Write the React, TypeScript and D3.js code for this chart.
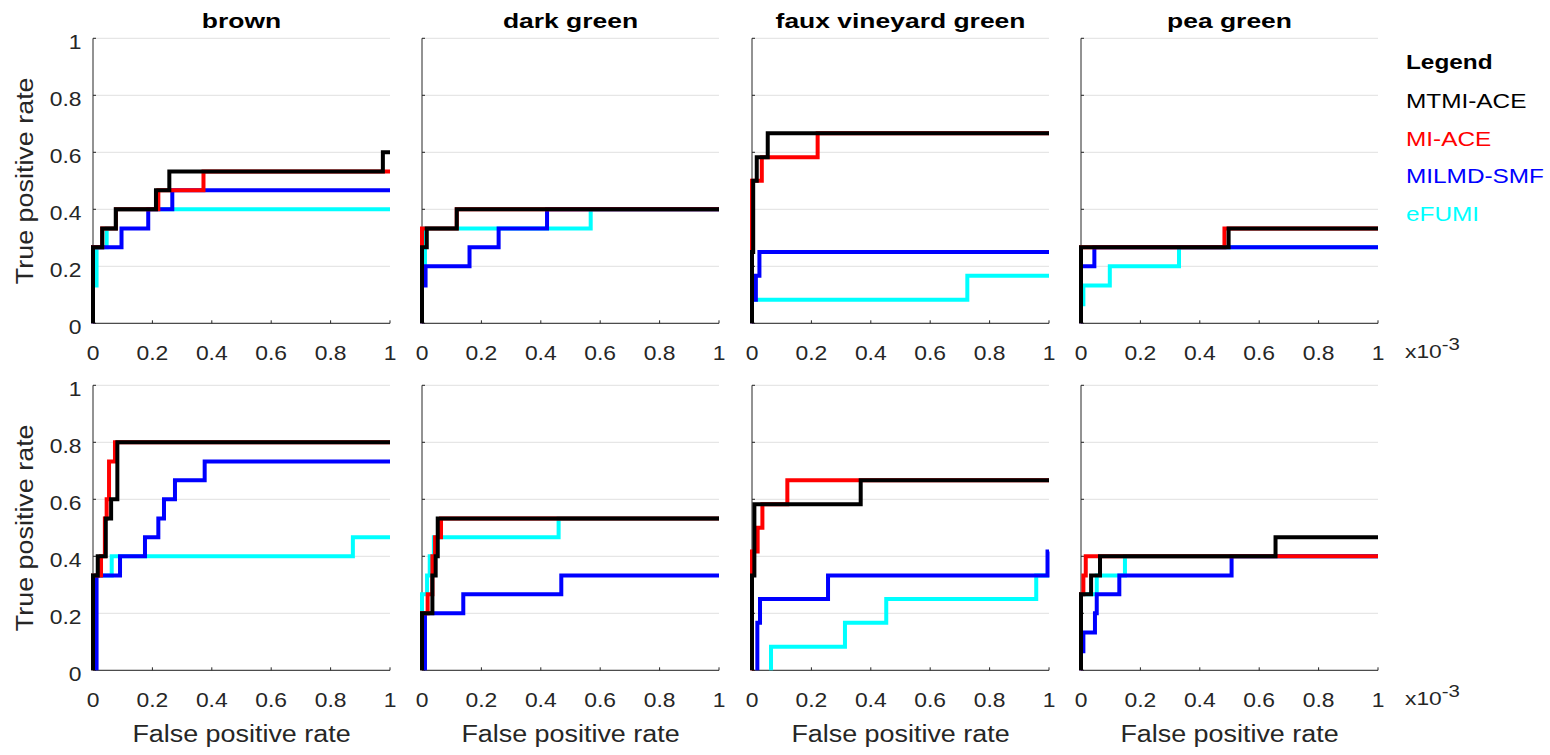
import React from "react";
import * as d3 from "d3";

type Pt = [number, number];

const methods = ["MTMI-ACE", "MI-ACE", "MILMD-SMF", "eFUMI"];
const methodColors = ["#000000", "#ff0000", "#0000ff", "#00ffff"];
const panelTitles = ["brown", "dark green", "faux vineyard green", "pea green"];
const yTicks = [0, 0.2, 0.4, 0.6, 0.8, 1];
const xTicks = [0, 0.2, 0.4, 0.6, 0.8, 1];
const xTickLabels = ["0", "0.2", "0.4", "0.6", "0.8", "1"];
const yTickLabels = ["0", "0.2", "0.4", "0.6", "0.8", "1"];

// Top row (x in units of 1e-3 false positive rate)
const brownTop_MTMI: Pt[] = [[0,0],[0,0.267],[0.031,0.267],[0.031,0.333],[0.077,0.333],[0.077,0.4],[0.212,0.4],[0.212,0.467],[0.257,0.467],[0.257,0.533],[0.976,0.533],[0.976,0.6],[1,0.6]];
const brownTop_MI: Pt[] = [[0,0],[0,0.267],[0.031,0.267],[0.031,0.333],[0.077,0.333],[0.077,0.4],[0.22,0.4],[0.22,0.467],[0.372,0.467],[0.372,0.533],[1,0.533]];
const brownTop_MILMD: Pt[] = [[0,0],[0,0.267],[0.096,0.267],[0.096,0.333],[0.186,0.333],[0.186,0.4],[0.267,0.4],[0.267,0.467],[1,0.467]];
const brownTop_eFUMI: Pt[] = [[0,0],[0,0.133],[0.012,0.133],[0.012,0.267],[0.046,0.267],[0.046,0.333],[0.077,0.333],[0.077,0.4],[1,0.4]];

const darkTop_MTMI: Pt[] = [[0,0],[0,0.267],[0.016,0.267],[0.016,0.333],[0.117,0.333],[0.117,0.4],[1,0.4]];
const darkTop_MI: Pt[] = [[0,0],[0,0.333],[0.117,0.333],[0.117,0.4],[1,0.4]];
const darkTop_MILMD: Pt[] = [[0,0],[0,0.133],[0.012,0.133],[0.012,0.2],[0.16,0.2],[0.16,0.267],[0.258,0.267],[0.258,0.333],[0.421,0.333],[0.421,0.4],[1,0.4]];
const darkTop_eFUMI: Pt[] = [[0,0],[0,0.2],[0.01,0.2],[0.01,0.333],[0.568,0.333],[0.568,0.4],[1,0.4]];

const fauxTop_MTMI: Pt[] = [[0,0],[0,0.25],[0.004,0.25],[0.004,0.5],[0.016,0.5],[0.016,0.583],[0.053,0.583],[0.053,0.667],[1,0.667]];
const fauxTop_MI: Pt[] = [[0,0],[0,0.5],[0.033,0.5],[0.033,0.583],[0.221,0.583],[0.221,0.667],[1,0.667]];
const fauxTop_MILMD: Pt[] = [[0,0],[0,0.083],[0.013,0.083],[0.013,0.167],[0.025,0.167],[0.025,0.25],[1,0.25]];
const fauxTop_eFUMI: Pt[] = [[0,0],[0,0.083],[0.725,0.083],[0.725,0.167],[1,0.167]];

const peaTop_MTMI: Pt[] = [[0,0],[0,0.267],[0.497,0.267],[0.497,0.333],[1,0.333]];
const peaTop_MI: Pt[] = [[0,0],[0,0.267],[0.483,0.267],[0.483,0.333],[1,0.333]];
const peaTop_MILMD: Pt[] = [[0,0],[0,0.2],[0.045,0.2],[0.045,0.267],[1,0.267]];
const peaTop_eFUMI: Pt[] = [[0,0],[0,0.067],[0.008,0.067],[0.008,0.133],[0.097,0.133],[0.097,0.2],[0.33,0.2],[0.33,0.267],[1,0.267]];

// Bottom row
const brownBot_MTMI: Pt[] = [[0,0],[0,0.333],[0.016,0.333],[0.016,0.4],[0.043,0.4],[0.043,0.533],[0.061,0.533],[0.061,0.6],[0.082,0.6],[0.082,0.8],[1,0.8]];
const brownBot_MI: Pt[] = [[0,0],[0,0.333],[0.027,0.333],[0.027,0.4],[0.04,0.4],[0.04,0.533],[0.046,0.533],[0.046,0.6],[0.054,0.6],[0.054,0.733],[0.074,0.733],[0.074,0.8],[1,0.8]];
const brownBot_MILMD: Pt[] = [[0.012,0],[0.012,0.333],[0.091,0.333],[0.091,0.4],[0.175,0.4],[0.175,0.467],[0.22,0.467],[0.22,0.533],[0.239,0.533],[0.239,0.6],[0.276,0.6],[0.276,0.667],[0.376,0.667],[0.376,0.733],[1,0.733]];
const brownBot_eFUMI: Pt[] = [[0,0],[0,0.333],[0.063,0.333],[0.063,0.4],[0.875,0.4],[0.875,0.467],[1,0.467]];

const darkBot_MTMI: Pt[] = [[0,0],[0,0.2],[0.035,0.2],[0.035,0.333],[0.046,0.333],[0.046,0.4],[0.053,0.4],[0.053,0.533],[1,0.533]];
const darkBot_MI: Pt[] = [[0,0],[0,0.2],[0.019,0.2],[0.019,0.267],[0.035,0.267],[0.035,0.4],[0.044,0.4],[0.044,0.467],[0.064,0.467],[0.064,0.533],[1,0.533]];
const darkBot_MILMD: Pt[] = [[0.01,0],[0.01,0.2],[0.139,0.2],[0.139,0.267],[0.469,0.267],[0.469,0.333],[1,0.333]];
const darkBot_eFUMI: Pt[] = [[0,0],[0,0.267],[0.017,0.267],[0.017,0.333],[0.026,0.333],[0.026,0.4],[0.04,0.4],[0.04,0.467],[0.46,0.467],[0.46,0.533],[1,0.533]];

const fauxBot_MTMI: Pt[] = [[0,0],[0,0.333],[0.008,0.333],[0.008,0.583],[0.366,0.583],[0.366,0.667],[1,0.667]];
const fauxBot_MI: Pt[] = [[0,0],[0,0.417],[0.019,0.417],[0.019,0.5],[0.035,0.5],[0.035,0.583],[0.119,0.583],[0.119,0.667],[1,0.667]];
const fauxBot_MILMD: Pt[] = [[0.018,0],[0.018,0.167],[0.027,0.167],[0.027,0.25],[0.256,0.25],[0.256,0.333],[0.995,0.333],[0.995,0.417],[1,0.417]];
const fauxBot_eFUMI: Pt[] = [[0.064,0],[0.064,0.083],[0.313,0.083],[0.313,0.167],[0.452,0.167],[0.452,0.25],[0.957,0.25],[0.957,0.333],[1,0.333]];

const peaBot_MTMI: Pt[] = [[0,0],[0,0.267],[0.034,0.267],[0.034,0.333],[0.064,0.333],[0.064,0.4],[0.655,0.4],[0.655,0.467],[1,0.467]];
const peaBot_MI: Pt[] = [[0,0],[0,0.267],[0.008,0.267],[0.008,0.333],[0.016,0.333],[0.016,0.4],[1,0.4]];
const peaBot_MILMD: Pt[] = [[0,0],[0,0.067],[0.008,0.067],[0.008,0.133],[0.047,0.133],[0.047,0.2],[0.053,0.2],[0.053,0.267],[0.129,0.267],[0.129,0.333],[0.507,0.333],[0.507,0.4],[1,0.4]];
const peaBot_eFUMI: Pt[] = [[0,0],[0,0.267],[0.053,0.267],[0.053,0.333],[0.148,0.333],[0.148,0.4],[1,0.4]];

// curves[row][col] = [MTMI, MI, MILMD, eFUMI]
const curves: Pt[][][][] = [
  [
    [brownTop_MTMI, brownTop_MI, brownTop_MILMD, brownTop_eFUMI],
    [darkTop_MTMI, darkTop_MI, darkTop_MILMD, darkTop_eFUMI],
    [fauxTop_MTMI, fauxTop_MI, fauxTop_MILMD, fauxTop_eFUMI],
    [peaTop_MTMI, peaTop_MI, peaTop_MILMD, peaTop_eFUMI],
  ],
  [
    [brownBot_MTMI, brownBot_MI, brownBot_MILMD, brownBot_eFUMI],
    [darkBot_MTMI, darkBot_MI, darkBot_MILMD, darkBot_eFUMI],
    [fauxBot_MTMI, fauxBot_MI, fauxBot_MILMD, fauxBot_eFUMI],
    [peaBot_MTMI, peaBot_MI, peaBot_MILMD, peaBot_eFUMI],
  ],
];

const FONT = "'Liberation Sans', Arial, Helvetica, sans-serif";
const AXIS = "#262626";
const GRID = "#e0e0e0";

const panelLefts = [93, 422, 752, 1081];
const panelWidth = 297;
const rowTops = [38.3, 385.3];
const rowHeight = 285;

function T(props: {
  x: number;
  y: number;
  size: number;
  sx?: number;
  anchor?: string;
  weight?: string;
  fill?: string;
  rotate?: number;
  children: React.ReactNode;
}) {
  const { x, y, size, sx = 1, anchor = "start", weight = "normal", fill = AXIS, rotate, children } = props;
  const tr = `translate(${x},${y})${rotate ? ` rotate(${rotate})` : ""} scale(${sx},1)`;
  return (
    <text transform={tr} fontSize={size} fontWeight={weight} textAnchor={anchor} fill={fill} fontFamily={FONT}>
      {children}
    </text>
  );
}

function Panel({ row, col }: { row: number; col: number }) {
  const left = panelLefts[col];
  const top = rowTops[row];
  const bottom = top + rowHeight;
  const x = d3.scaleLinear().domain([0, 1]).range([left, left + panelWidth]);
  const y = d3.scaleLinear().domain([0, 1]).range([bottom, top]);
  const line = d3
    .line<Pt>()
    .x((d) => x(d[0]))
    .y((d) => y(d[1]));
  const series = curves[row][col];
  const drawOrder = [3, 2, 1, 0];
  return (
    <g>
      {yTicks.map((t) => (
        <line key={"g" + t} x1={x(0)} x2={x(1)} y1={y(t)} y2={y(t)} stroke={GRID} strokeWidth={1} />
      ))}
      <line x1={x(0)} x2={x(0)} y1={y(0)} y2={y(1)} stroke={AXIS} strokeWidth={1} />
      <line x1={x(0)} x2={x(1)} y1={y(0)} y2={y(0)} stroke={AXIS} strokeWidth={1} />
      {yTicks.map((t) => (
        <line key={"yt" + t} x1={x(0)} x2={x(0) + 3} y1={y(t)} y2={y(t)} stroke={AXIS} strokeWidth={1} />
      ))}
      {xTicks.map((t) => (
        <line key={"xt" + t} x1={x(t)} x2={x(t)} y1={y(0)} y2={y(0) - 3} stroke={AXIS} strokeWidth={1} />
      ))}
      {xTicks.map((t, i) => (
        <T key={"xl" + t} x={x(t)} y={y(0) + 36.5} size={21} sx={1.09} anchor="middle">
          {xTickLabels[i]}
        </T>
      ))}
      {col === 0 &&
        yTicks.map((t, i) => (
          <T key={"yl" + t} x={x(0) - 11.5} y={y(t) + 10.5} size={21} sx={1.09} anchor="end">
            {yTickLabels[i]}
          </T>
        ))}
      {drawOrder.map((m) => (
        <path
          key={"c" + m}
          d={line(series[m]) || ""}
          fill="none"
          stroke={methodColors[m]}
          strokeWidth={4}
          strokeLinejoin="miter"
          strokeLinecap="butt"
        />
      ))}
      {row === 0 && (
        <T x={x(0.5)} y={28.3} size={21} sx={1.26} anchor="middle" weight="bold" fill="#000">
          {panelTitles[col]}
        </T>
      )}
      {row === 1 && (
        <T x={x(0.5)} y={741.7} size={23} sx={1.17} anchor="middle">
          False positive rate
        </T>
      )}
      {col === 0 && (
        <T x={33.3} y={(top + bottom) / 2} size={23} sx={1.17} anchor="middle" rotate={-90}>
          True positive rate
        </T>
      )}
      {col === 3 && (
        <T x={1405} y={y(0) + 35} size={19} sx={1.2}>
          x10
          <tspan dy={-8.5} fontSize={17}>
            -3
          </tspan>
        </T>
      )}
    </g>
  );
}

export default function App() {
  return (
    <svg width={1550} height={755} style={{ position: "absolute", left: 0, top: 0, background: "#fff" }}>
      <rect width={1550} height={755} fill="#fff" />
      {[0, 1].map((r) => [0, 1, 2, 3].map((c) => <Panel key={`${r}-${c}`} row={r} col={c} />))}
      <T x={1406} y={69} size={21} sx={1.16} weight="bold" fill="#000">
        Legend
      </T>
      {methods.map((m, i) => (
        <T key={m} x={1406} y={108 + i * 37.5} size={21} sx={1.16} fill={methodColors[i]}>
          {m}
        </T>
      ))}
    </svg>
  );
}
